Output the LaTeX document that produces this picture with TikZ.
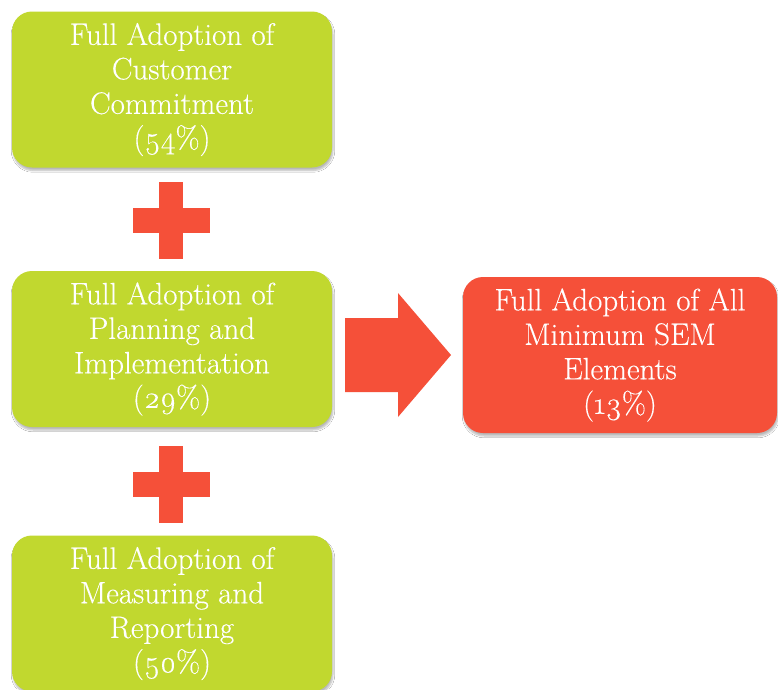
\documentclass[tikz,border=0pt]{standalone}
\usepackage{fontspec}
\setmainfont{Latin Modern Roman}[Numbers=OldStyle]
\usetikzlibrary{shadows.blur}
\definecolor{limegreen}{HTML}{C1D82F}
\definecolor{tomatored}{HTML}{F55039}
\tikzset{
  boxshape/.style={rectangle, rounded corners=20pt, minimum width=320pt, minimum height=156pt,
    align=center, text=white, inner sep=0pt,
    font=\fontsize{31}{34.5}\selectfont\addfontfeatures{FakeBold=0.3},
    blur shadow={shadow xshift=1pt, shadow yshift=-3pt, shadow blur steps=6, shadow opacity=28}},
  greenbox/.style={boxshape, fill=limegreen},
  redbox/.style={boxshape, fill=tomatored, minimum width=314pt},
  plusshape/.style={fill=tomatored}
}
\begin{document}
\begin{tikzpicture}[x=1pt,y=-1pt]
\useasboundingbox (0,0) rectangle (778,689);
\fill[white] (0,0) rectangle (778,689);
\node[greenbox] (cc) at (172,89.5) {Full Adoption of\\Customer\\Commitment\\(54\%)};
\node[greenbox] (pi) at (172,349) {Full Adoption of\\Planning and\\Implementation\\(29\%)};
\node[greenbox] (mr) at (172,613.5) {Full Adoption of\\Measuring and\\Reporting\\(50\%)};
\node[redbox] (all) at (620,355) {Full Adoption of All\\Minimum SEM\\Elements\\(13\%)};
% plus signs
\fill[plusshape] (159,182) rectangle (183,259);
\fill[plusshape] (133,208) rectangle (210,233);
\fill[plusshape] (159,446) rectangle (183,523);
\fill[plusshape] (133,472) rectangle (210,497);
% block arrow
\fill[tomatored] (345,318) -- (398,318) -- (398,293) -- (451,355) -- (398,417) -- (398,392) -- (345,392) -- cycle;
\end{tikzpicture}
\end{document}
